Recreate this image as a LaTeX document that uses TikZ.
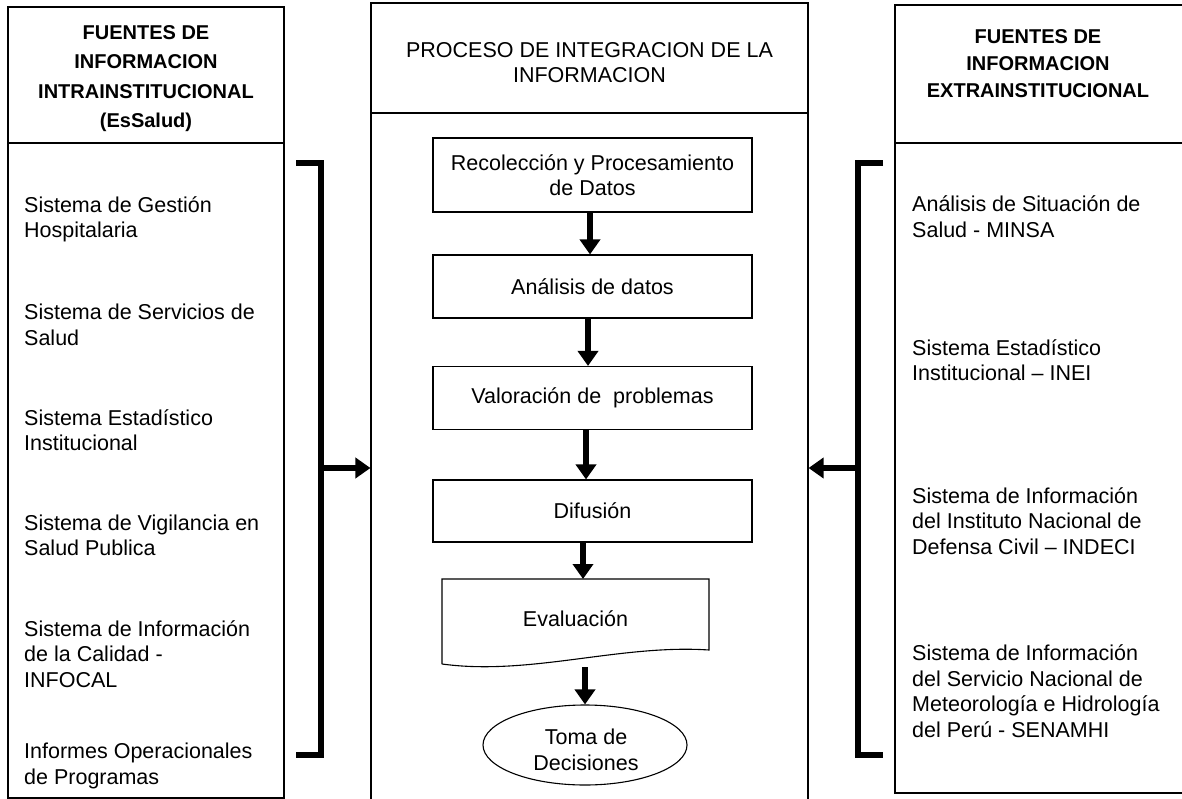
\documentclass[tikz,border=0pt]{standalone}
\usepackage{fontspec}
\setmainfont{Liberation Sans}
\usetikzlibrary{arrows.meta,shapes.geometric}
\begin{document}
\begin{tikzpicture}[x=1pt,y=-1pt,
  box/.style={draw,line width=1.1pt,inner sep=0pt},
  bodyfont/.style={font=\fontsize{21.5}{25.5}\selectfont},
  hdr/.style={font=\fontsize{20}{29.5}\selectfont\bfseries,align=center,inner sep=0pt},
  item/.style={bodyfont,anchor=west,align=left,inner sep=0pt},
  stepbox/.style={box,bodyfont,align=center,minimum width=319pt},
  arr/.style={line width=6.5pt,-{Triangle[width=20pt,length=15pt]}},
  brk/.style={line width=6.5pt,line join=miter}
]
\useasboundingbox (0,0) rectangle (1182,799);
% left column
\node[box,minimum width=276pt,minimum height=136pt] (lh) at (146,75) {};
\node[hdr] (lht) at (146,78.5) {FUENTES DE\\INFORMACION\\INTRAINSTITUCIONAL\\(EsSalud)};
\node[box,minimum width=276pt,minimum height=655pt] (lb) at (146,470.5) {};
\node[item] (l1) at (24,219.5) {Sistema de Gestión\\Hospitalaria};
\node[item] (l2) at (24,325) {Sistema de Servicios de\\Salud};
\node[item] (l3) at (24,430) {Sistema Estadístico\\Institucional};
\node[item] (l4) at (24,535.5) {Sistema de Vigilancia en\\Salud Publica};
\node[item] (l5) at (24,654) {Sistema de Información\\de la Calidad -\\INFOCAL};
\node[item] (l6) at (24,766) {Informes Operacionales\\de Programas};
% middle column
\node[box,minimum width=437pt,minimum height=110pt] (mh) at (589.5,58) {};
\node[bodyfont,align=center,inner sep=0pt] (mht) at (589.5,62.5) {PROCESO DE INTEGRACION DE LA\\INFORMACION};
\node[box,minimum width=437pt,minimum height=688pt] (mb) at (589.5,457) {};
\node[stepbox,minimum height=74pt] (b1) at (592.5,175) {Recolección y Procesamiento\\de Datos};
\node[stepbox,minimum height=63pt] (b2) at (592.5,286.5) {Análisis de datos};
\node[stepbox,minimum height=63pt] (b3) at (592.5,398) {Valoración de~ problemas};
\node[stepbox,minimum height=62pt] (b4) at (592.5,511) {Difusión};
\node[bodyfont,inner sep=0pt] (ev) at (575.5,619) {Evaluación};
\coordinate (evnw) at (442,579);
\coordinate (evne) at (709,579);
\coordinate (evse) at (709,650);
\coordinate (evsw) at (442,664);
\draw[line width=1.1pt] (evsw) -- (evnw) -- (evne) -- (evse) .. controls (620,644) and (530,676) .. (evsw);
\node[box,ellipse,minimum width=204pt,minimum height=80pt] (dec) at (585,745) {};
\node[bodyfont,align=center,inner sep=0pt] (dect) at (586,750) {Toma de\\Decisiones};
\coordinate (evb) at (585,667);
% right column
\node[box,minimum width=288pt,minimum height=138pt] (rh) at (1039,74) {};
\node[hdr,font=\fontsize{20}{27}\selectfont\bfseries] (rht) at (1038,63.5) {FUENTES DE\\INFORMACION\\EXTRAINSTITUCIONAL};
\node[box,minimum width=288pt,minimum height=650pt] (rb) at (1039,468) {};
\node[item] (r1) at (912,216.5) {Análisis de Situación de\\Salud - MINSA};
\node[item] (r2) at (912,360) {Sistema Estadístico\\Institucional – INEI};
\node[item] (r3) at (912,521) {Sistema de Información\\del Instituto Nacional de\\Defensa Civil – INDECI};
\node[item] (r4) at (912,691) {Sistema de Información\\del Servicio Nacional de\\Meteorología e Hidrología\\del Perú - SENAMHI};
% flow arrows
\draw[arr] ([xshift=-2.5pt]b1.south) -- ([xshift=-2.5pt]b1.south |- b2.north);
\draw[arr] ([xshift=-4.5pt]b2.south) -- ([xshift=-4.5pt]b2.south |- b3.north);
\draw[arr] ([xshift=-6.5pt]b3.south) -- ([xshift=-6.5pt]b3.south |- b4.north);
\draw[arr] ([xshift=-9.5pt]b4.south) -- ([xshift=-9.5pt]b4.south |- evne);
\draw[arr] (evb) -- (dec.north);
% brackets
\coordinate (lj) at (321,468);
\coordinate (rj) at (858,468);
\draw[brk] (296,163) -- (321,163) -- (321,755) -- (296,755);
\draw[brk] (883,163) -- (858,163) -- (858,755) -- (883,755);
\draw[arr] (lj) -- (lj -| mb.west);
\draw[arr] (rj) -- (rj -| mb.east);
\end{tikzpicture}
\end{document}
